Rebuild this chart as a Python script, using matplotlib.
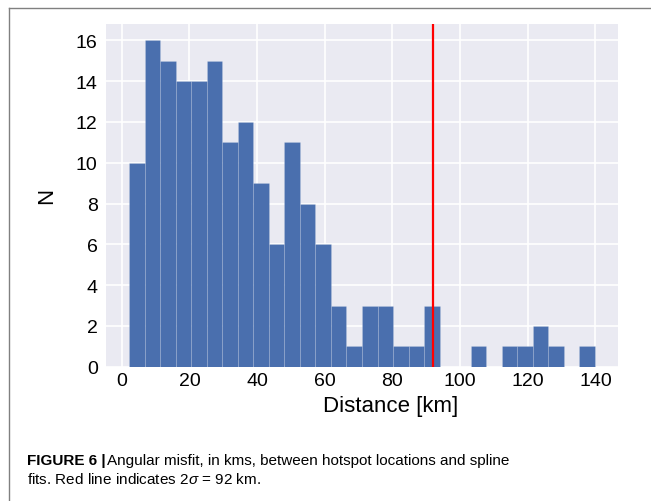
import numpy as np
import matplotlib
matplotlib.use("Agg")
import matplotlib.pyplot as plt
from matplotlib.lines import Line2D

# histogram of misfit distances (km), 30 bins
bin_lo = 2.2
bin_hi = 139.8
counts = [10, 16, 15, 14, 14, 15, 11, 12, 9, 6,
          11, 8, 6, 3, 1, 3, 3, 1, 1, 3,
          0, 0, 1, 0, 1, 1, 2, 1, 0, 1]
two_sigma = 92
yticks = [0, 2, 4, 6, 8, 10, 12, 14, 16]
xticks = [0, 20, 40, 60, 80, 100, 120, 140]

plt.rcParams['font.family'] = ['Liberation Sans', 'DejaVu Sans']
plt.rcParams['mathtext.fontset'] = 'custom'
plt.rcParams['mathtext.it'] = 'Liberation Sans:italic'
plt.rcParams['mathtext.rm'] = 'Liberation Sans'

edges = np.linspace(bin_lo, bin_hi, len(counts) + 1)
widths = np.diff(edges)

fig = plt.figure(figsize=(6.51, 5.02), dpi=100)
ax = fig.add_axes([0.1628, 0.2675, 0.7865, 0.6827])
ax.set_facecolor('#EAEAF2')
ax.set_axisbelow(True)
ax.grid(True, color='white', linewidth=1.2)
for s in ax.spines.values():
    s.set_visible(False)

ax.bar(edges[:-1], counts, width=widths, align='edge', color='#4A6FAE',
       edgecolor=(1, 1, 1, 0.15), linewidth=0.6)
ax.axvline(two_sigma, color='#FF0000', linewidth=1.6)

ax.set_xlim(bin_lo - 0.05 * (bin_hi - bin_lo), bin_hi + 0.05 * (bin_hi - bin_lo))
ax.set_ylim(0, 16.8)
ax.set_xticks(xticks)
ax.set_yticks(yticks)
ax.tick_params(axis='both', length=0, labelsize=14, colors='black')
ax.tick_params(axis='y', pad=6)
ax.tick_params(axis='x', pad=4)

ax.set_xlabel('Distance [km]', fontsize=16, va='baseline')
ax.xaxis.set_label_coords(0.555, -0.129)
ax.set_ylabel('N', fontsize=16)
ax.yaxis.set_label_coords(-0.096, 0.5)

# caption below the chart
cap_size = 11
cap = fig.text(27 / 651, 1 - 465 / 502, 'FIGURE 6 |', fontsize=cap_size,
               weight='bold', va='baseline')
ax.annotate('Angular misfit, in kms, between hotspot locations and spline',
            xy=(1, 0), xycoords=cap, xytext=(1, 0), textcoords='offset points',
            va='bottom', ha='left', fontsize=cap_size, annotation_clip=False)
fig.text(27 / 651, 1 - 484 / 502, r'fits. Red line indicates 2$\it{\sigma}$ = 92 km.',
         fontsize=cap_size, va='baseline')

# page frame
fig.add_artist(Line2D([9 / 651, 9 / 651], [0, 1 - 9 / 502], color='#808080', linewidth=1))
fig.add_artist(Line2D([9 / 651, 1], [1 - 9 / 502, 1 - 9 / 502], color='#808080', linewidth=1))

fig.savefig('out.png', dpi=100)
